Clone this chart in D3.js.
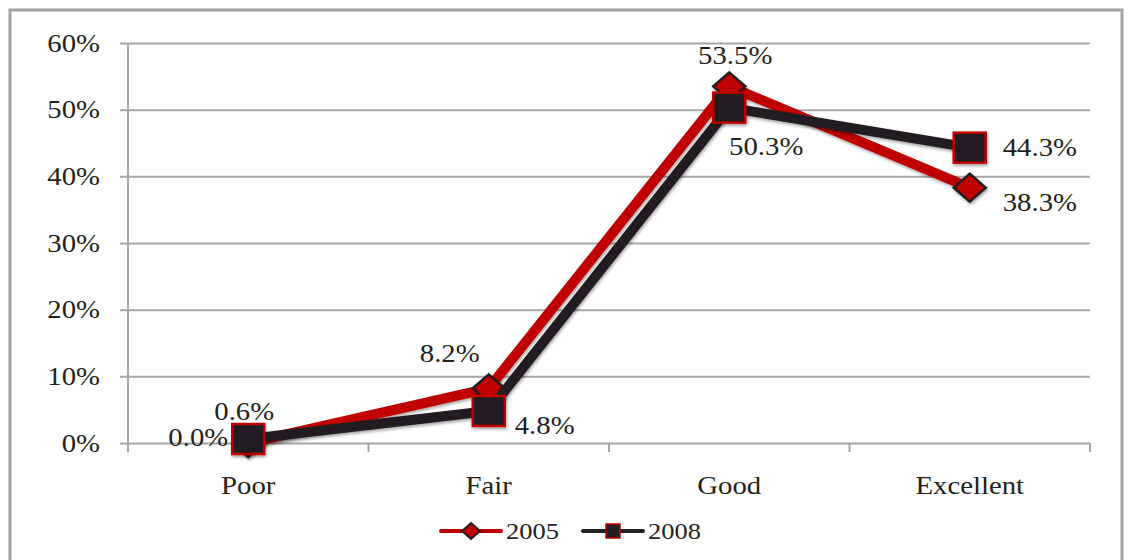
<!DOCTYPE html>
<html>
<head>
<meta charset="utf-8">
<script src="https://cdn.jsdelivr.net/npm/d3@7"></script>
<style>
  html, body { margin: 0; padding: 0; background: #fff; }
  svg { display: block; }
</style>
</head>
<body>
<svg id="chart" width="1129" height="560"></svg>
<script>
// Health rating shares by survey year
const categories = ["Poor", "Fair", "Good", "Excellent"];
const seriesNames = ["2005", "2008"];
const values2005 = [0.000, 0.082, 0.535, 0.383];
const values2008 = [0.006, 0.048, 0.503, 0.443];
const yTicks = [0, 0.1, 0.2, 0.3, 0.4, 0.5, 0.6];

// label placement offsets (dx, dy, anchor) relative to each point
const labelPlace2005 = [[-20, -6, "end"], [-39, -35, "middle"], [6, -31, "middle"], [33, 15, "start"]];
const labelPlace2008 = [[-4, -28, "middle"], [26, 14, "start"], [37, 39, "middle"], [33, 0, "start"]];

const RED = "#c00000", DARK = "#231f20", GRID = "#a6a6a6";
const FONT = "'Liberation Serif'";
const SX = 1.15; // horizontal text stretch
const fmt = d3.format(".1%");

const svg = d3.select("#chart");

const defs = svg.append("defs");
const f = defs.append("filter").attr("id", "shadow")
  .attr("x", "-50%").attr("y", "-50%").attr("width", "200%").attr("height", "200%");
f.append("feDropShadow").attr("dx", 1).attr("dy", 2).attr("stdDeviation", 1.5)
  .attr("flood-color", "#000").attr("flood-opacity", 0.35);

// outer frame
svg.append("rect").attr("x", 10).attr("y", 10).attr("width", 1112).attr("height", 600)
  .attr("fill", "none").attr("stroke", "#a0a0a0").attr("stroke-width", 3);

const x = d3.scaleBand().domain(categories).range([128, 1090]).padding(0);
const y = d3.scaleLinear().domain([0, 0.6]).range([443, 43]);
const cx = c => x(c) + x.bandwidth() / 2;

function styleText(sel, size) {
  return sel.style("font-family", FONT).style("font-size", size + "px").attr("fill", DARK);
}

// gridlines with short ticks left of the value axis
svg.append("g").attr("transform", "translate(1090,0)")
  .call(d3.axisLeft(y).tickValues(yTicks).tickSize(970).tickFormat(""))
  .call(g => g.select(".domain").remove())
  .call(g => g.selectAll(".tick line").attr("stroke", GRID).attr("stroke-width", 2));

// y axis line
svg.append("line").attr("x1", 128).attr("x2", 128).attr("y1", 43).attr("y2", 443)
  .attr("stroke", GRID).attr("stroke-width", 2);

// x axis tick marks at category boundaries
const bounds = categories.map(c => x(c)).concat([1090]);
svg.append("g").selectAll("line").data(bounds).join("line")
  .attr("x1", d => d).attr("x2", d => d).attr("y1", 443).attr("y2", 452)
  .attr("stroke", GRID).attr("stroke-width", 2);

// y tick labels
styleText(svg.append("g").selectAll("text").data(yTicks).join("text"), 25)
  .attr("transform", d => `translate(100,${y(d)}) scale(${SX},1)`)
  .attr("dy", "0.35em").attr("text-anchor", "end")
  .text(d => d3.format(".0%")(d));

// x category labels
styleText(svg.append("g").selectAll("text").data(categories).join("text"), 25)
  .attr("transform", d => `translate(${cx(d)},485) scale(${SX},1)`)
  .attr("dy", "0.35em").attr("text-anchor", "middle")
  .text(d => d);

const line = d3.line().x((d, i) => cx(categories[i])).y(d => y(d));
const diamond = (hw, hh) => `M0,${-hh}L${hw},0L0,${hh}L${-hw},0Z`;

// 2005 series
svg.append("path").datum(values2005).attr("d", line)
  .attr("fill", "none").attr("stroke", RED).attr("stroke-width", 10)
  .attr("stroke-linejoin", "round").attr("filter", "url(#shadow)");
svg.append("g").selectAll("path").data(values2005).join("path")
  .attr("transform", (d, i) => `translate(${cx(categories[i])},${y(d)})`)
  .attr("d", diamond(16, 14))
  .attr("fill", RED).attr("stroke", DARK).attr("stroke-width", 2.5)
  .attr("filter", "url(#shadow)");

// 2008 series
svg.append("path").datum(values2008).attr("d", line)
  .attr("fill", "none").attr("stroke", DARK).attr("stroke-width", 10)
  .attr("stroke-linejoin", "round").attr("filter", "url(#shadow)");
svg.append("g").selectAll("rect").data(values2008).join("rect")
  .attr("x", (d, i) => cx(categories[i]) - 16).attr("y", d => y(d) - 15)
  .attr("width", 32).attr("height", 30)
  .attr("fill", DARK).attr("stroke", RED).attr("stroke-width", 2.5)
  .attr("filter", "url(#shadow)");

// data labels
function labels(vals, place) {
  styleText(svg.append("g").selectAll("text").data(vals).join("text"), 25)
    .attr("transform", (d, i) => `translate(${cx(categories[i]) + place[i][0]},${y(d) + place[i][1]}) scale(${SX},1)`)
    .attr("dy", "0.35em").attr("text-anchor", (d, i) => place[i][2])
    .text(d => fmt(d));
}
labels(values2005, labelPlace2005);
labels(values2008, labelPlace2008);

// legend
const lg = svg.append("g");
const legendItems = [
  { name: seriesNames[0], color: RED, x0: 441 },
  { name: seriesNames[1], color: DARK, x0: 583 }
];
legendItems.forEach((it, k) => {
  lg.append("line").attr("x1", it.x0).attr("x2", it.x0 + 60).attr("y1", 531).attr("y2", 531)
    .attr("stroke", it.color).attr("stroke-width", 4).attr("stroke-linecap", "round");
  if (k === 0) {
    lg.append("path").attr("transform", `translate(${it.x0 + 30},531)`).attr("d", diamond(9, 8))
      .attr("fill", RED).attr("stroke", DARK).attr("stroke-width", 2);
  } else {
    lg.append("rect").attr("x", it.x0 + 23).attr("y", 524).attr("width", 14).attr("height", 14)
      .attr("fill", DARK).attr("stroke", RED).attr("stroke-width", 1.5);
  }
  styleText(lg.append("text"), 23)
    .attr("transform", `translate(${it.x0 + 65},531) scale(${SX},1)`)
    .attr("dy", "0.35em").text(it.name);
});
</script>
</body>
</html>
